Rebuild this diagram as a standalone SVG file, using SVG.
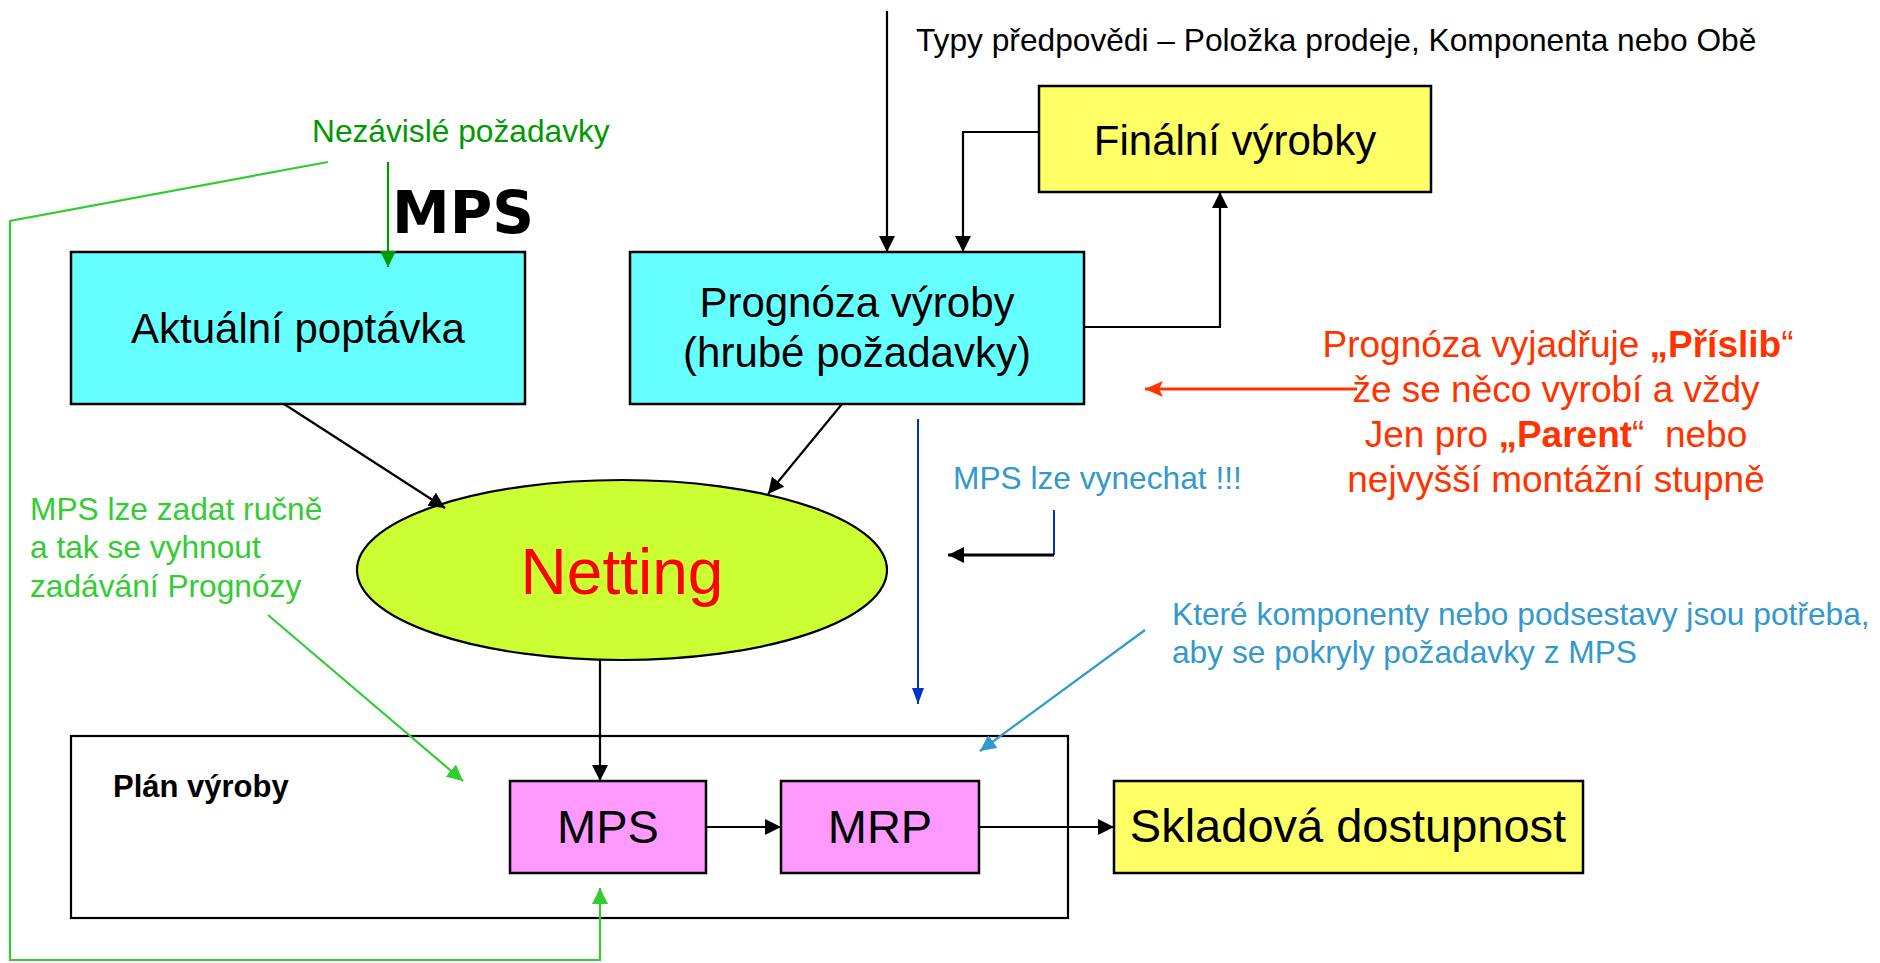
<svg xmlns="http://www.w3.org/2000/svg" width="1880" height="963" viewBox="0 0 1880 963">
<style>
text{font-family:"Liberation Sans",Arial,sans-serif;}
.box{stroke:#000;stroke-width:2.5;}
.cyan{fill:#66ffff;}
.yel{fill:#ffff66;}
.mag{fill:#ff99ff;}
.lbl{font-size:42px;fill:#000;text-anchor:middle;}
.lbl2{font-size:47px;fill:#000;text-anchor:middle;}
.note{font-size:31.7px;}
.red{font-size:37px;fill:#ff3300;text-anchor:middle;white-space:pre;}
.ln{fill:none;stroke:#000;stroke-width:2.2;}
.g{fill:none;stroke:#33cc33;stroke-width:2.2;}
</style>
<defs>
<marker id="ab" viewBox="0 0 16 16" refX="16" refY="8" markerWidth="16" markerHeight="16" markerUnits="userSpaceOnUse" orient="auto"><path d="M0,0 L16,8 L0,16 z" fill="#000"/></marker>
<marker id="ag" viewBox="0 0 16 16" refX="16" refY="8" markerWidth="16" markerHeight="16" markerUnits="userSpaceOnUse" orient="auto"><path d="M0,0 L16,8 L0,16 z" fill="#33cc33"/></marker>
<marker id="adg" viewBox="0 0 16 16" refX="16" refY="8" markerWidth="16" markerHeight="16" markerUnits="userSpaceOnUse" orient="auto"><path d="M0,0 L16,8 L0,16 z" fill="#009900"/></marker>
<marker id="ar" viewBox="0 0 18 16" refX="18" refY="8" markerWidth="18" markerHeight="16" markerUnits="userSpaceOnUse" orient="auto"><path d="M0,0 L18,8 L0,16 L4,8 z" fill="#ff3300"/></marker>
<marker id="abl" viewBox="0 0 16 12" refX="16" refY="6" markerWidth="16" markerHeight="12" markerUnits="userSpaceOnUse" orient="auto"><path d="M0,0 L16,6 L0,12 z" fill="#0033cc"/></marker>
<marker id="asb" viewBox="0 0 16 16" refX="16" refY="8" markerWidth="16" markerHeight="16" markerUnits="userSpaceOnUse" orient="auto"><path d="M0,0 L16,8 L0,16 z" fill="#3399cc"/></marker>
</defs>

<g id="plan">
<rect x="71" y="736" width="997" height="182" fill="#fff" stroke="#000" stroke-width="2.2"/>
<text x="113" y="797" style="font-size:31px;font-weight:bold">Plán výroby</text>
</g>

<g id="aktualni">
<rect class="box cyan" x="71" y="252" width="454" height="152"/>
<text class="lbl" x="298" y="343">Aktuální poptávka</text>
</g>

<g id="prognoza">
<rect class="box cyan" x="630" y="252" width="454" height="152"/>
<text class="lbl" x="857" y="317">Prognóza výroby</text>
<text class="lbl" x="857" y="367">(hrubé požadavky)</text>
</g>

<g id="finalni">
<rect class="box yel" x="1039" y="86" width="392" height="106"/>
<text class="lbl" x="1235" y="155">Finální výrobky</text>
</g>

<g id="netting">
<ellipse cx="622" cy="570" rx="265" ry="90" fill="#ccff33" stroke="#000" stroke-width="2.2"/>
<text x="622" y="594" style="font-size:64px;fill:#ff0000;text-anchor:middle">Netting</text>
</g>

<g id="mps">
<rect class="box mag" x="510" y="781" width="196" height="92"/>
<text class="lbl2" x="608" y="843">MPS</text>
</g>

<g id="mrp">
<rect class="box mag" x="781" y="781" width="198" height="92"/>
<text class="lbl2" x="880" y="843">MRP</text>
</g>

<g id="sklad">
<rect class="box yel" x="1114" y="781" width="469" height="92"/>
<text class="lbl2" x="1348" y="842">Skladová dostupnost</text>
</g>

<g id="labels">
<text x="392" y="233" style="font-family:'DejaVu Sans',sans-serif;font-size:58px;font-weight:bold;fill:#000">MPS</text>
<text class="note" x="312" y="142" style="fill:#009900">Nezávislé požadavky</text>
<text class="note" x="916" y="51" style="fill:#000">Typy předpovědi – Položka prodeje, Komponenta nebo Obě</text>
<text class="note" x="30" y="520" style="fill:#33cc33">MPS lze zadat ručně</text>
<text class="note" x="30" y="558" style="fill:#33cc33">a tak se vyhnout</text>
<text class="note" x="30" y="597" style="fill:#33cc33">zadávání Prognózy</text>
<text class="note" x="953" y="489" style="fill:#3399cc">MPS lze vynechat !!!</text>
<text class="note" x="1172" y="625" style="fill:#3399cc">Které komponenty nebo podsestavy jsou potřeba,</text>
<text class="note" x="1172" y="663" style="fill:#3399cc">aby se pokryly požadavky z MPS</text>
<text class="red" x="1558" y="357">Prognóza vyjadřuje <tspan font-weight="bold">„Příslib</tspan>“</text>
<text class="red" x="1556" y="402">že se něco vyrobí a vždy</text>
<text class="red" x="1556" y="447">Jen pro <tspan font-weight="bold">„Parent</tspan>“  nebo</text>
<text class="red" x="1556" y="492">nejvyšší montážní stupně</text>
</g>

<g id="connectors">
<path class="ln" d="M887,11 V252" marker-end="url(#ab)"/>
<path class="ln" d="M1039,132 H963 V252" marker-end="url(#ab)"/>
<path class="ln" d="M1084,327 H1220 V192" marker-end="url(#ab)"/>
<path class="ln" d="M284,404 L445,508" marker-end="url(#ab)"/>
<path class="ln" d="M842,404 L768,494" marker-end="url(#ab)"/>
<path class="ln" d="M600,660 V781" marker-end="url(#ab)"/>
<path class="ln" d="M706,827 H781" marker-end="url(#ab)"/>
<path class="ln" d="M979,827 H1114" marker-end="url(#ab)"/>
<path d="M388,162 V267" fill="none" stroke="#009900" stroke-width="2.2" marker-end="url(#adg)"/>
<path class="g" d="M328,162 L10,221 V960 H600 V888" marker-end="url(#ag)"/>
<path class="g" d="M268,615 L463,781" marker-end="url(#ag)"/>
<path d="M1357,389 H1145" fill="none" stroke="#ff3300" stroke-width="3" marker-end="url(#ar)"/>
<path d="M918,419 V704" fill="none" stroke="#0033cc" stroke-width="2" marker-end="url(#abl)"/>
<path d="M1054,510 V555" fill="none" stroke="#0033cc" stroke-width="2"/>
<path d="M1054,555 H948" fill="none" stroke="#000" stroke-width="3" marker-end="url(#ab)"/>
<path d="M1145,630 L980,751" fill="none" stroke="#3399cc" stroke-width="2.2" marker-end="url(#asb)"/>
</g>
</svg>
